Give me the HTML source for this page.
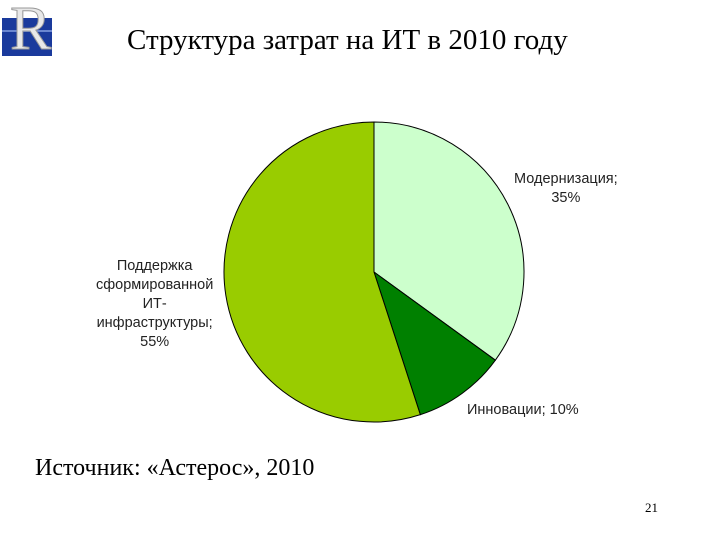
<!DOCTYPE html>
<html><head><meta charset="utf-8"><style>
body{margin:0;width:720px;height:540px;background:#fff;position:relative;overflow:hidden;font-family:"Liberation Serif","Noto Serif CJK SC",serif}
.t{position:absolute;white-space:nowrap}
.lbl{font-family:"Liberation Sans","Noto Sans CJK SC",sans-serif;font-size:14.5px;color:#222;text-align:center;line-height:19px}
</style></head><body>
<div style="position:absolute;left:2px;top:18px;width:50px;height:38px;background:#1a3a9c"></div>
<div style="position:absolute;left:2px;top:30px;width:50px;height:2px;background:#6a86d0"></div>
<div class="t" style="left:10px;top:-6px;font-size:62px;color:#e8e8e8;font-family:'Liberation Serif',serif;-webkit-text-stroke:1px #999">R</div>
<div class="t" style="left:127px;top:24px;font-size:29px;color:#000">Структура затрат на ИТ в 2010 году</div>
<svg id="pie" width="720" height="540" style="position:absolute;left:0;top:0"></svg>
<div class="t lbl" style="left:514px;top:170px">Модернизация;<br>35%</div>
<div class="t lbl" style="left:467px;top:401px">Инновации; 10%</div>
<div class="t lbl" style="left:96px;top:257px">Поддержка<br>сформированной<br>ИТ-<br>инфраструктуры;<br>55%</div>
<div class="t" style="left:35px;top:455px;font-size:24px;color:#000">Источник: «Астерос», 2010</div>
<div class="t" style="left:645px;top:500px;font-size:13px;color:#000">21</div>
<script>
const categories=["Модернизация","Инновации","Поддержка ИТ-инфраструктуры"];
const values=[35,10,55];
const colors=["#ccffcc","#008000","#99cc00"];
const svg=document.getElementById('pie');
const cx=374,cy=272,r=150;
const total=values.reduce((a,b)=>a+b,0);
let a0=0;
values.forEach((v,i)=>{
  const a1=a0+v/total*2*Math.PI;
  const x0=cx+r*Math.sin(a0),y0=cy-r*Math.cos(a0),x1=cx+r*Math.sin(a1),y1=cy-r*Math.cos(a1);
  const p=document.createElementNS('http://www.w3.org/2000/svg','path');
  p.setAttribute('d',`M${cx},${cy}L${x0},${y0}A${r},${r} 0 ${a1-a0>Math.PI?1:0} 1 ${x1},${y1}Z`);
  p.setAttribute('fill',colors[i]);p.setAttribute('stroke','#000');p.setAttribute('stroke-width','1');
  
  
  svg.appendChild(p);
  a0=a1;
});
</script>
</body></html>
